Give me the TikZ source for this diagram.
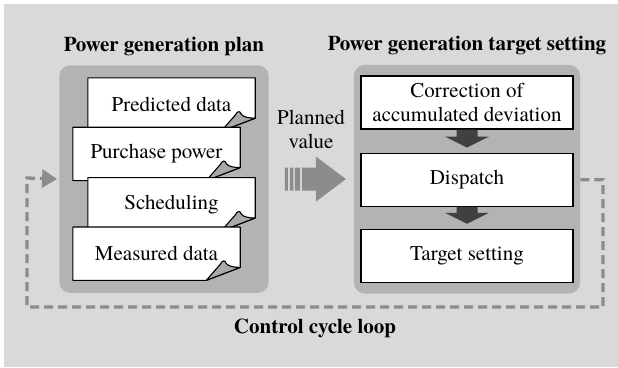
\documentclass[tikz,border=0pt]{standalone}
\usepackage{fontspec}
\setmainfont{texgyretermes}[Extension=.otf, UprightFont=*-regular, BoldFont=*-bold, ItalicFont=*-italic, BoldItalicFont=*-bolditalic]
\usepackage{tikz}
\usetikzlibrary{arrows.meta, positioning, fit, backgrounds, calc}
\definecolor{bggray}{HTML}{D9D9D9}
\definecolor{panelgray}{HTML}{B3B3B3}
\definecolor{arrowgray}{HTML}{8C8C8C}
\definecolor{darkarrow}{HTML}{404040}
\definecolor{flapgray}{HTML}{A9A9A9}
\pgfdeclarelayer{back}
\pgfsetlayers{back,background,main}
\tikzset{
  boxfont/.style={font=\fontsize{21}{24}\selectfont},
  titlefont/.style={font=\fontsize{21}{24}\selectfont\bfseries},
  docbox/.style={rectangle, boxfont, minimum width=167pt, minimum height=53pt, inner sep=0pt},
  stagebox/.style={rectangle, draw, line width=1.2pt, fill=white, boxfont, align=center, minimum width=212pt, minimum height=53pt, inner sep=0pt},
  pageline/.style={draw=black, line width=1.1pt, line join=round},
  panel/.style={rectangle, fill=panelgray, rounded corners=11pt},
  looparr/.style={draw=arrowgray, line width=3.3pt, dash pattern=on 9pt off 5pt, -{Triangle[length=15pt, width=18pt]}, shorten >=2pt},
}
% page with a curled corner, drawn behind the text node #1
\newcommand{\pagefold}[1]{%
  \path[pageline, fill=white] (#1.north west) -- (#1.north east) -- ([yshift=13pt]#1.south east) -- ([xshift=-34pt]#1.south east) -- (#1.south west) -- cycle;
  \begin{scope}[shift={(#1.south east)}]
    \path[pageline, fill=flapgray] (-34,0) -- (-20,-16) .. controls (-18,-20) and (-15,-21) .. (-14,-17) .. controls (-12,-14) and (-6,-13) .. (0,-13) -- cycle;
  \end{scope}
}
% block arrow between two stages
\newcommand{\stagearrow}[2]{%
  \fill[darkarrow] ([xshift=-10.5pt]#1.south) -- ([xshift=-10.5pt, yshift=16pt]#2.north) -- ([xshift=-22pt, yshift=16pt]#2.north) -- ([yshift=5pt]#2.north) -- ([xshift=22pt, yshift=16pt]#2.north) -- ([xshift=10.5pt, yshift=16pt]#2.north) -- ([xshift=10.5pt]#1.south) -- cycle;
}

\begin{document}
\begin{tikzpicture}[x=1pt, y=-1pt]
  \useasboundingbox (0,0) rectangle (618,367);

  % Plan documents
  \node[docbox] (pred) at (171.5,104.5) {Predicted data};
  \node[docbox, below=-4pt of pred.south west, anchor=north west, xshift=-15pt] (purch) {Purchase power};
  \node[docbox, below=-3pt of purch.south east, anchor=north east, xshift=15pt] (sched) {Scheduling};
  \node[docbox, below=-4pt of sched.south west, anchor=north west, xshift=-15pt] (meas) {Measured data};

  \begin{scope}[on background layer]
    \pagefold{pred}
    \pagefold{purch}
    \pagefold{sched}
    \pagefold{meas}
  \end{scope}

  % Target setting stages
  \node[stagebox] (corr) at (467,102.5) {Correction of\\accumulated deviation};
  \node[stagebox, below=23pt of corr] (disp) {Dispatch};
  \node[stagebox, below=22pt of disp] (tset) {Target setting};

  \stagearrow{corr}{disp}
  \stagearrow{disp}{tset}

  % Panels
  \begin{pgfonlayer}{back}
    \fill[bggray] (4,4) rectangle (618,367);
    \node[panel, fit=(pred)(purch)(sched)(meas), inner xsep=13.5pt, inner ysep=12.5pt, label={[titlefont, label distance=6pt]above:Power generation plan}] (plan) {};
    \node[panel, fit=(corr)(tset), inner xsep=6.5pt, inner ysep=10.5pt, label={[titlefont, label distance=6pt]above:Power generation target setting}] (tgt) {};
  \end{pgfonlayer}

  % Planned value arrow
  \node[boxfont, align=center] (planned) at (311,129) {Planned\\value};
  \begin{scope}[shift={(plan.east)}]
    \fill[arrowgray] (16,-11.5) rectangle (19,11.5) (21,-11.5) rectangle (24.5,11.5) (26,-11.5) rectangle (31,11.5);
    \fill[arrowgray] (33,-11.5) -- (47,-11.5) -- (47,-22.5) -- (77,0) -- (47,22.5) -- (47,11.5) -- (33,11.5) -- cycle;
  \end{scope}

  % Control cycle loop
  \coordinate (loopR) at (603,307);
  \coordinate (loopL) at (27,178);
  \draw[looparr] (tgt.east |- disp.east) -| (loopR) -| (loopL) -- (plan.west);
  \node[titlefont, below=8pt of $(loopR)!0.5!(loopR -| loopL)$] (looplabel) {Control cycle loop};
\end{tikzpicture}
\end{document}
